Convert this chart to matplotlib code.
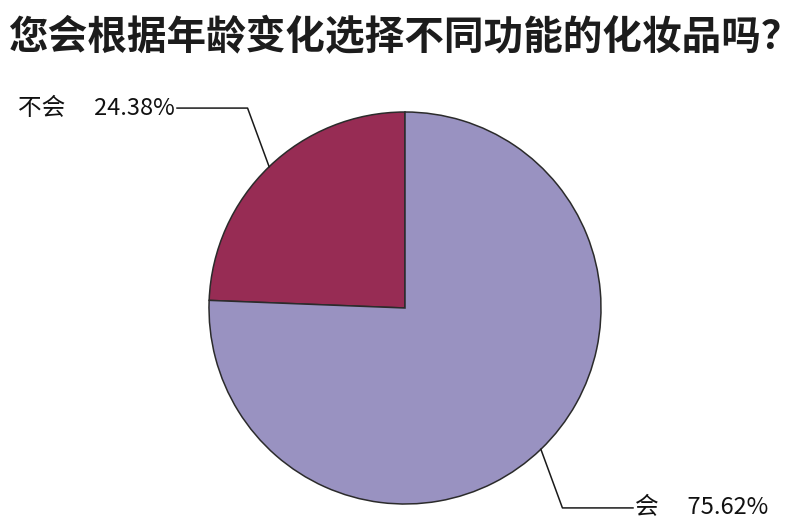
import numpy as np
import matplotlib
matplotlib.use('Agg')
import matplotlib.pyplot as plt

plt.rcParams['font.family'] = ['Noto Sans CJK SC', 'DejaVu Sans']

# survey answers
title = '您会根据年龄变化选择不同功能的化妆品吗？'
labels = ['不会', '会']
shares = [24.38, 75.62]
colors = ['#972c54', '#9992c1']

fig = plt.figure(figsize=(8, 5.3), dpi=100)

# title across the top
fig.text(8 / 800, 1 - 38 / 530, title, fontsize=28.5, fontweight='bold',
         color='#1c1c1c', ha='left', va='center')

# pie axes, centre at (405, 308) px, radius ~196 px
ax = fig.add_axes([405 / 800 - 196 / 800, 1 - 308 / 530 - 196 / 530,
                   392 / 800, 392 / 530])
wedges, _ = ax.pie(shares, colors=colors, startangle=90, counterclock=True,
                   wedgeprops=dict(edgecolor='#2b2b2b', linewidth=1.1))
ax.set_xlim(-1, 1)
ax.set_ylim(-1, 1)
ax.set_aspect('equal')
ax.set_clip_on(False)

# leader lines with labels
for w, lab, val in zip(wedges, labels, shares):
    ang = np.radians((w.theta1 + w.theta2) / 2)
    px, py = np.cos(ang), np.sin(ang)
    sx = np.sign(px)
    sy = np.sign(py)
    kx, ky = px + sx * 0.11, sy * 1.02
    ex = kx + sx * 0.36
    ax.plot([px, kx, ex], [py, ky, ky], color='#1a1a1a', lw=1.1,
            clip_on=False)
    txt = lab + '\u3000 ' + ('%.2f%%' % val)
    ax.text(ex + sx * 0.01, ky, txt, fontsize=17, color='#111111',
            ha='left' if sx > 0 else 'right', va='center')

fig.savefig('out.png', dpi=100)
